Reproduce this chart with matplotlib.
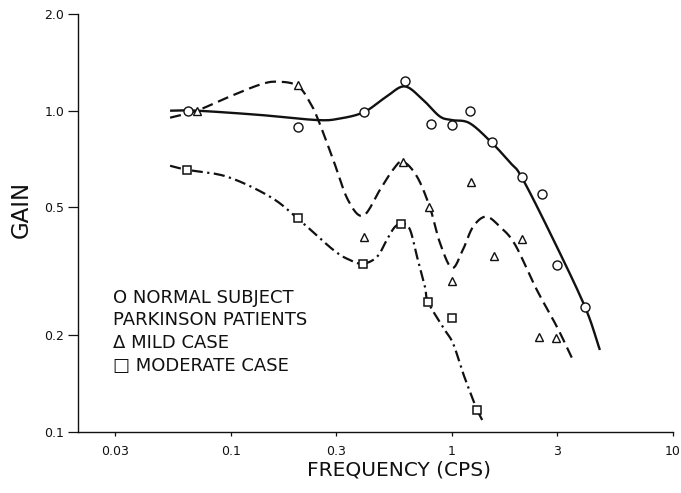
import numpy as np
import matplotlib.pyplot as plt
from matplotlib.ticker import FixedLocator, NullLocator, FixedFormatter

# measured points (frequency in cps, gain)
normal_f = [0.064, 0.2, 0.4, 0.61, 0.8, 1.0, 1.21, 1.52, 2.07, 2.55, 3.0, 4.0]
normal_gain = [1.0, 0.89, 0.99, 1.24, 0.91, 0.90, 1.0, 0.80, 0.62, 0.55, 0.33, 0.245]

mild_f = [0.07, 0.2, 0.4, 0.6, 0.79, 1.0, 1.22, 1.55, 2.07, 2.48, 2.96]
mild_gain = [1.0, 1.2, 0.405, 0.69, 0.50, 0.295, 0.60, 0.353, 0.40, 0.198, 0.196]

moderate_f = [0.063, 0.2, 0.395, 0.59, 0.78, 1.0, 1.30]
moderate_gain = [0.655, 0.464, 0.334, 0.445, 0.254, 0.227, 0.117]

# hand-drawn fitted curves
normal_curve_f = [0.053, 0.07, 0.135, 0.245, 0.31, 0.40, 0.50, 0.61, 0.74, 0.88,
                  1.0, 1.2, 1.5, 1.83, 2.07, 2.86, 4.0, 4.67]
normal_curve_gain = [1.0, 1.0, 0.97, 0.935, 0.945, 0.99, 1.10, 1.19, 1.08, 0.96,
                     0.935, 0.915, 0.80, 0.69, 0.62, 0.40, 0.245, 0.18]

mild_curve_f = [0.053, 0.07, 0.096, 0.135, 0.162, 0.20, 0.228, 0.248, 0.29, 0.338,
                0.396, 0.472, 0.541, 0.60, 0.695, 0.795, 0.882, 1.0, 1.12, 1.245,
                1.425, 1.65, 1.93, 2.42, 2.99, 3.49]
mild_curve_gain = [0.951, 1.0, 1.098, 1.205, 1.231, 1.196, 1.059, 0.937, 0.704, 0.528,
                   0.471, 0.567, 0.655, 0.694, 0.623, 0.499, 0.388, 0.324, 0.369, 0.435,
                   0.468, 0.435, 0.383, 0.277, 0.212, 0.170]

moderate_curve_f = [0.053, 0.063, 0.096, 0.150, 0.199, 0.29, 0.345, 0.396, 0.458, 0.508,
                    0.552, 0.60, 0.646, 0.695, 0.755, 0.779, 0.91, 1.01, 1.12, 1.245,
                    1.30, 1.37]
moderate_curve_gain = [0.674, 0.655, 0.623, 0.540, 0.464, 0.369, 0.343, 0.334, 0.351, 0.397,
                       0.435, 0.445, 0.426, 0.351, 0.283, 0.254, 0.212, 0.189, 0.153, 0.126,
                       0.117, 0.109]

x_ticks = [0.03, 0.1, 0.3, 1, 3, 10]
x_tick_labels = ['0.03', '0.1', '0.3', '1', '3', '10']
y_ticks = [0.1, 0.2, 0.5, 1.0, 2.0]
y_tick_labels = ['0.1', '0.2', '0.5', '1.0', '2.0']

legend_lines = ['O NORMAL SUBJECT', 'PARKINSON PATIENTS', 'Δ MILD CASE', '□ MODERATE CASE']

plt.rcParams['font.family'] = ['DejaVu Sans', 'DejaVu Sans Mono']


def smooth(xs, ys, n=14):
    """Catmull-Rom path through traced points, in log-log space."""
    p = np.column_stack([np.log10(xs), np.log10(ys)])
    p = np.vstack([2 * p[0] - p[1], p, 2 * p[-1] - p[-2]])
    t = np.linspace(0, 1, n, endpoint=False)[:, None]
    out = []
    for i in range(1, len(p) - 2):
        p0, p1, p2, p3 = p[i - 1], p[i], p[i + 1], p[i + 2]
        seg = 0.5 * (2 * p1 + (-p0 + p2) * t
                     + (2 * p0 - 5 * p1 + 4 * p2 - p3) * t ** 2
                     + (-p0 + 3 * p1 - 3 * p2 + p3) * t ** 3)
        out.append(seg)
    out.append(p[-2][None])
    out = np.vstack(out)
    return 10 ** out[:, 0], 10 ** out[:, 1]


fig = plt.figure(figsize=(6.81, 4.93), dpi=100)
ax = fig.add_axes([0.1145, 0.1237, 0.8737, 0.848])
ax.set_xscale('log')
ax.set_yscale('log')
ax.set_xlim(0.0203, 10)
ax.set_ylim(0.1, 2.0)

ink = '#111111'
cx, cy = smooth(normal_curve_f, normal_curve_gain)
ax.plot(cx, cy, color=ink, lw=1.7, solid_capstyle='butt')
cx, cy = smooth(mild_curve_f, mild_curve_gain)
ax.plot(cx, cy, color=ink, lw=1.6, dashes=(5, 2.6))
cx, cy = smooth(moderate_curve_f, moderate_curve_gain)
ax.plot(cx, cy, color=ink, lw=1.6, dashes=(5, 2, 1, 2))

ax.plot(normal_f, normal_gain, 'o', ms=6.5, mfc='white', mec=ink, mew=1.0, ls='none')
ax.plot(mild_f, mild_gain, '^', ms=6, mfc='white', mec=ink, mew=1.0, ls='none')
ax.plot(moderate_f, moderate_gain, 's', ms=5.5, mfc='white', mec=ink, mew=1.1, ls='none')

for side in ['top', 'right']:
    ax.spines[side].set_visible(False)
for side in ['left', 'bottom']:
    ax.spines[side].set_linewidth(1.0)
    ax.spines[side].set_color(ink)

ax.xaxis.set_major_locator(FixedLocator(x_ticks))
ax.xaxis.set_major_formatter(FixedFormatter(x_tick_labels))
ax.xaxis.set_minor_locator(NullLocator())
ax.yaxis.set_major_locator(FixedLocator(y_ticks))
ax.yaxis.set_major_formatter(FixedFormatter(y_tick_labels))
ax.yaxis.set_minor_locator(NullLocator())
ax.tick_params(axis='x', direction='out', length=3, width=0.9, pad=6, labelsize=9, colors=ink)
ax.tick_params(axis='y', direction='out', length=7, width=0.9, pad=3, labelsize=9, colors=ink)

fig.text(0.586, 0.046, 'FREQUENCY (CPS)', ha='center', va='center', fontsize=14.5, color=ink)
fig.text(0.0316, 0.576, 'GAIN', ha='center', va='center', rotation=90, fontsize=16.5, color=ink)

legend_y = [298, 320, 343, 366]
for txt, py in zip(legend_lines, legend_y):
    fig.text(113 / 681, 1 - py / 493, txt, ha='left', va='center', fontsize=13, color=ink)

fig.savefig('out.png', dpi=100)
